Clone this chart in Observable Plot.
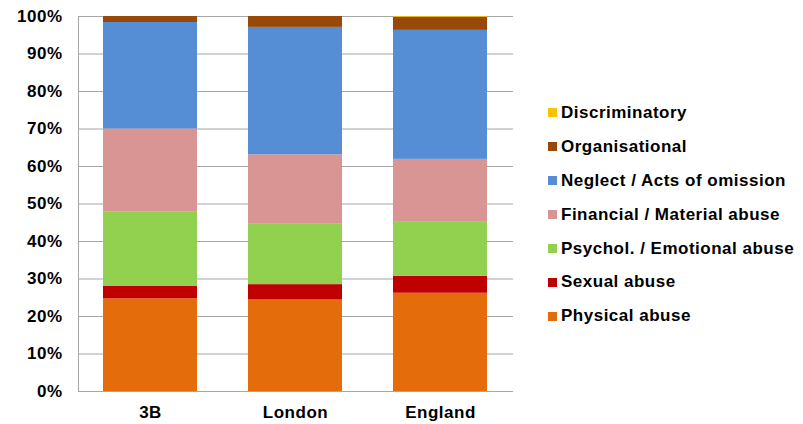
<!DOCTYPE html>
<html>
<head>
<meta charset="utf-8">
<script src="https://cdn.jsdelivr.net/npm/d3@7"></script>
<script src="https://cdn.jsdelivr.net/npm/@observablehq/plot@0.6"></script>
<style>
  html, body { margin: 0; padding: 0; background: #fff; }
  #wrap { position: relative; width: 803px; height: 424px; font-family: "Liberation Sans", Arial, sans-serif; }
  #legend { position: absolute; left: 548px; top: 96px; }
  .item { display: flex; align-items: center; height: 33.9px; font-weight: bold; font-size: 17px; letter-spacing: 0.5px; color: #000; white-space: nowrap; }
  .sw { width: 9px; height: 9px; margin-right: 4px; }
</style>
</head>
<body>
<div id="wrap"></div>
<script>
// Areas compared
const areas = ["3B", "London", "England"];

// Abuse types, bottom of the stack first
const types = [
  "Physical abuse",
  "Sexual abuse",
  "Psychol. / Emotional abuse",
  "Financial / Material abuse",
  "Neglect / Acts of omission",
  "Organisational",
  "Discriminatory"
];

const colors = ["#E46C0A", "#C00000", "#92D050", "#D99594", "#558ED5", "#984807", "#FFC000"];

// Share of referrals (%) per abuse type, in the order of `areas`
const physical       = [24.7, 24.4, 26.2];
const sexual         = [3.3, 4.1, 4.5];
const psychological  = [19.8, 16.1, 14.6];
const financial      = [22.2, 18.5, 16.6];
const neglect        = [28.4, 34.0, 34.4];
const organisational = [1.6, 2.9, 3.5];
const discriminatory = [0.0, 0.0, 0.2];

const yTicks = [0, 10, 20, 30, 40, 50, 60, 70, 80, 90, 100];

const series = [physical, sexual, psychological, financial, neglect, organisational, discriminatory];
const rows = [];
types.forEach((t, i) => areas.forEach((a, j) => rows.push({area: a, type: t, value: series[i][j]})));

const chart = Plot.plot({
  width: 803,
  height: 424,
  marginLeft: 78,
  marginRight: 290,
  marginTop: 16,
  marginBottom: 33,
  style: {fontFamily: "'Liberation Sans', Arial, sans-serif", fontSize: "17px", fontWeight: "bold", letterSpacing: "0.5px", color: "#000", background: "#fff"},
  x: {domain: areas, paddingInner: 0.35, paddingOuter: 0.175, label: null, tickSize: 0, tickPadding: 14},
  y: {domain: [0, 100], ticks: yTicks, tickFormat: d => d + "%", label: null, tickSize: 0, tickPadding: 16},
  color: {domain: types, range: colors},
  marks: [
    Plot.ruleY(yTicks, {stroke: "#A6A6A6", strokeWidth: 1}),
    Plot.barY(rows, Plot.stackY({x: "area", y: "value", fill: "type", order: null})),
    Plot.ruleY([0], {stroke: "#A6A6A6"})
  ]
});

const wrap = document.getElementById("wrap");
wrap.appendChild(chart);

// Left axis line along the plot frame
d3.select(chart).append("line")
  .attr("x1", 78.5).attr("x2", 78.5).attr("y1", 16).attr("y2", 391)
  .attr("stroke", "#A6A6A6");

// Legend, top entry is the top of the stack
const legend = document.createElement("div");
legend.id = "legend";
types.slice().reverse().forEach(t => {
  const item = document.createElement("div");
  item.className = "item";
  const sw = document.createElement("span");
  sw.className = "sw";
  sw.style.background = colors[types.indexOf(t)];
  item.appendChild(sw);
  item.appendChild(document.createTextNode(t));
  legend.appendChild(item);
});
wrap.appendChild(legend);
</script>
</body>
</html>
